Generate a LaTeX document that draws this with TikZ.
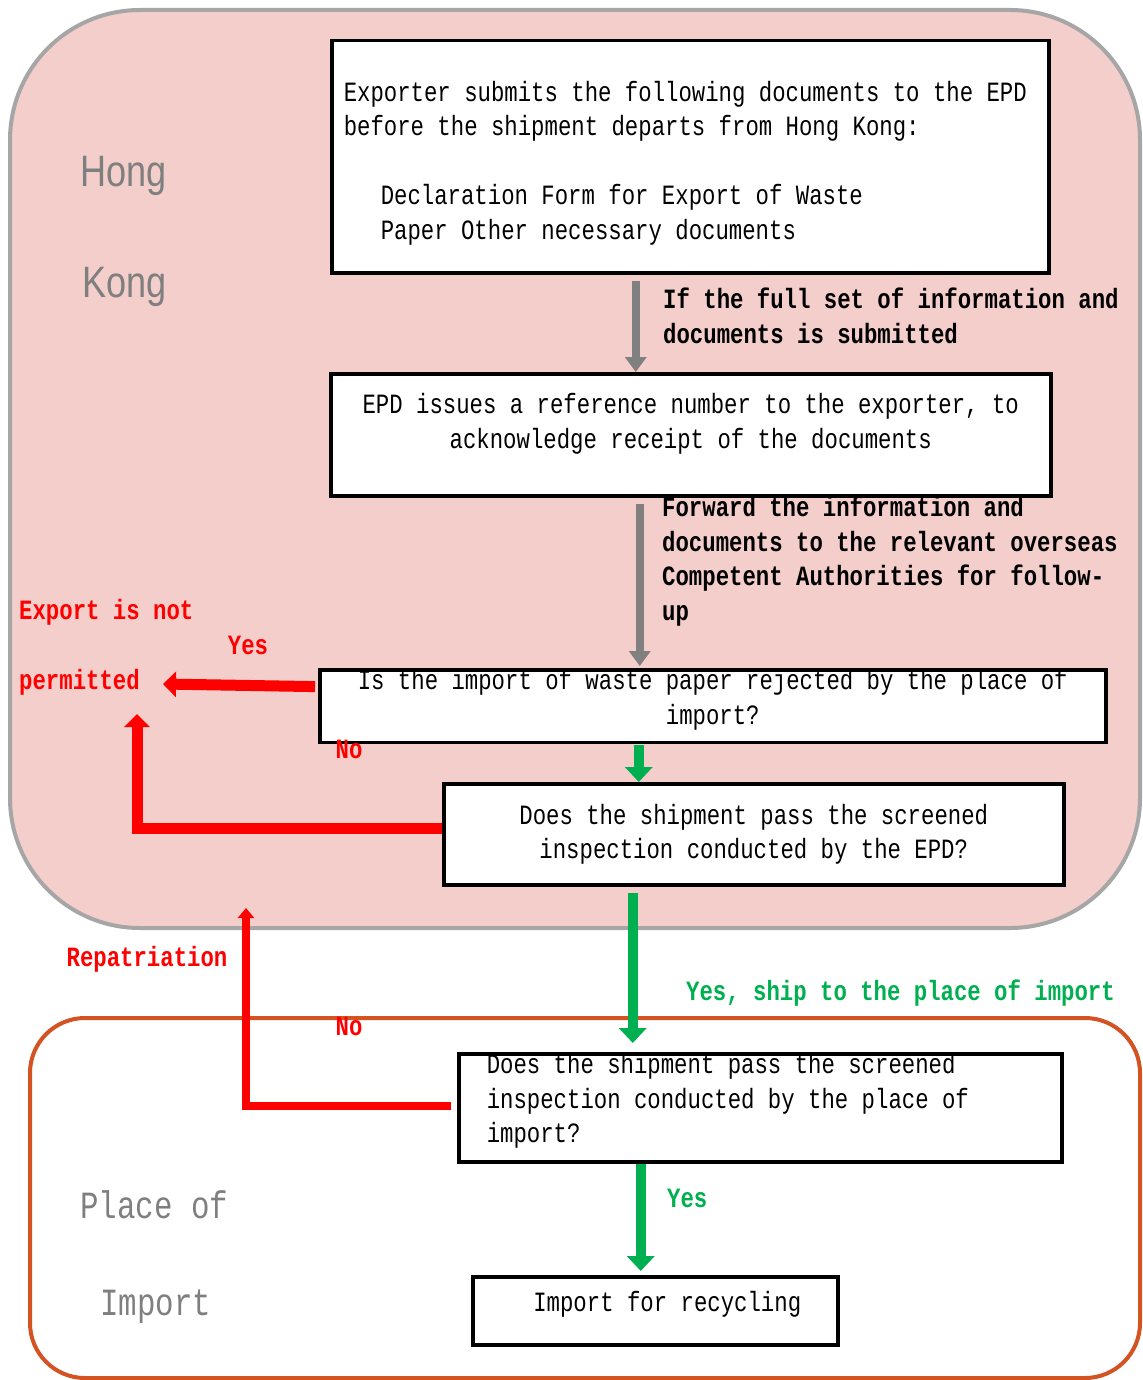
\documentclass[tikz,border=0pt]{standalone}
\usepackage{fontspec}
\usetikzlibrary{arrows.meta}
\setmainfont{Liberation Sans}
\newfontfamily\gothic[FakeStretch=0.8]{Liberation Mono}
\newfontfamily\regionfont[FakeStretch=0.82]{Liberation Sans}
\definecolor{hkfill}{HTML}{F3CECA}
\definecolor{hkline}{HTML}{A6A6A6}
\definecolor{destline}{HTML}{D35322}
\definecolor{flowgray}{HTML}{808080}
\definecolor{flowgreen}{HTML}{00B050}
\definecolor{flowred}{HTML}{FF0000}
\definecolor{regiongray}{HTML}{7F7F7F}
% invisible struts to sit the text off centre in its box
\newcommand\padbelow[1]{\rule[-#1]{0pt}{#1}}
\newcommand\padabove[1]{\rule{0pt}{#1}}

\begin{document}
\begin{tikzpicture}[x=1pt,y=-1pt,
    box/.style={rectangle,draw,line width=3.5pt,fill=white,inner sep=0pt,anchor=north west,
      font=\gothic\fontsize{27.9}{34.5}\selectfont},
    cond/.style={inner sep=0pt,align=left,font=\gothic\bfseries\fontsize{27.9}{34.5}\selectfont},
    region/.style={inner sep=0pt,anchor=base west,text=regiongray,font=\regionfont\fontsize{44}{50}\selectfont},
    regionmono/.style={inner sep=0pt,anchor=base west,text=regiongray,font=\gothic\fontsize{38.5}{46}\selectfont},
    grayflow/.style={flowgray,line width=8.5pt,-{Triangle[width=21pt,length=15pt]}},
    greenflow/.style={flowgreen,line width=10pt,-{Triangle[width=27pt,length=15pt]}},
    redflow/.style={flowred,line width=11pt,-{Triangle[width=25pt,length=13pt]}},
    backflow/.style={flowred,line width=7.5pt,-{Triangle[width=16pt,length=10pt]}}]
  \useasboundingbox (0,0) rectangle (1142,1380);

  % the two places
  \draw[hkline,fill=hkfill,line width=4pt,rounded corners=130pt] (10,10) rectangle (1140,928);
  \draw[destline,line width=4pt,rounded corners=55pt] (30,1018) rectangle (1140,1378);

  \node[region] (hong) at (80,187) {Hong};
  \node[region] (kong) at (82,297) {Kong};
  \node[regionmono] (placeof) at (80,1218) {Place of};
  \node[regionmono] (import) at (100,1315) {Import};

  \begin{scope}[every node/.style={box}]
    \node[minimum width=717pt,minimum height=232pt,text width=693pt,align=flush left] (submit) at (330,39)
      {\padabove{33pt}Exporter submits the following documents to the EPD\\before the shipment departs from Hong Kong:\\[34.5pt]\hspace*{37pt}Declaration Form for Export of Waste\\\hspace*{37pt}Paper Other necessary documents};
    \node[minimum width=720pt,minimum height=122pt,align=center] (refno) at (329,372)
      {EPD issues a reference number to the exporter, to\\acknowledge receipt of the documents\padbelow{28pt}};
    \node[minimum width=786pt,minimum height=71pt,align=center] (reject) at (318,668)
      {Is the import of waste paper rejected by the place of\\import?\padbelow{18pt}};
    \node[minimum width=620pt,minimum height=101pt,align=center] (epdcheck) at (442,782)
      {Does the shipment pass the screened\\inspection conducted by the EPD?};
    \node[minimum width=603pt,minimum height=108pt,text width=547pt,align=flush left] (destcheck) at (457,1052)
      {Does the shipment pass the screened\\inspection conducted by the place of\\import?\padbelow{19pt}};
    \node[minimum width=365pt,minimum height=68pt] (recycle) at (471,1275) {\hspace*{24pt}Import for recycling\padbelow{18pt}};
  \end{scope}

  % labels on the connectors
  \node[cond,anchor=north west] (fullset) at (663,288) {If the full set of information and\\documents is submitted};
  \node[cond,anchor=north west] (forward) at (662,496) {Forward the information and\\documents to the relevant overseas\\Competent Authorities for follow-\\up};
  \begin{scope}[every node/.style={cond,text=flowred}]
    \node[anchor=north west,font=\gothic\bfseries\fontsize{27.9}{70}\selectfont] (notpermitted) at (19,599) {Export is not\\permitted};
    \node[anchor=mid] (yesreject) at (248,652) {Yes};
    \node[anchor=mid] (noreject) at (349,756) {No};
    \node[anchor=mid] (repatriation) at (147,964) {Repatriation};
    \node[anchor=mid] (nodest) at (349,1033) {No};
  \end{scope}
  \begin{scope}[every node/.style={cond,text=flowgreen,anchor=mid west}]
    \node (shipyes) at (686,998) {Yes, ship to the place of import};
    \node (recycleyes) at (667,1205) {Yes};
  \end{scope}

  \coordinate (refused) at (163,684);
  \coordinate (refusedup) at (137,714);
  \coordinate (backhome) at (246,908);

  % connectors
  \path[grayflow,shorten <=6pt] ([xshift=-54.5pt]submit.south) edge ([xshift=-55pt]refno.north);
  \path[grayflow,shorten <=6pt,shorten >=2pt] ([xshift=-51pt]refno.south) edge ([xshift=-73pt]reject.north);
  \path[greenflow,shorten <=1pt] ([xshift=-74pt]reject.south) edge ([xshift=-115pt]epdcheck.north);
  \path[greenflow,shorten <=6pt,shorten >=9pt] ([xshift=-121pt]epdcheck.south) edge ([xshift=-127.5pt]destcheck.north);
  \path[greenflow,shorten >=4pt] ([xshift=-119.5pt]destcheck.south) edge ([xshift=-14.5pt]recycle.north);

  \draw[redflow] ([yshift=19.5pt,xshift=-3pt]reject.west) -- (refused);
  \draw[redflow] ([yshift=5.5pt]epdcheck.west) -| (refusedup);
  \draw[backflow] ([yshift=2pt,xshift=-6pt]destcheck.west) -| (backhome);
\end{tikzpicture}
\end{document}
